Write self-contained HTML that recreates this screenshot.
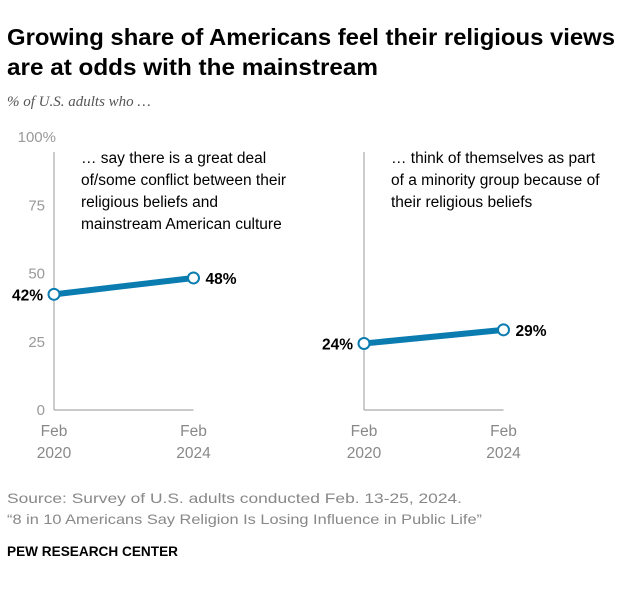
<!DOCTYPE html>
<html><head><meta charset="utf-8"><style>
body{margin:0;background:#fff;}
svg{display:block;font-family:"Liberation Sans",sans-serif;}
</style></head><body>
<svg width="639" height="589">
<text x="7" y="45" font-size="23" font-weight="bold" fill="#000" textLength="608" lengthAdjust="spacingAndGlyphs">Growing share of Americans feel their religious views</text>
<text x="7" y="75" font-size="23" font-weight="bold" fill="#000" textLength="371" lengthAdjust="spacingAndGlyphs">are at odds with the mainstream</text>
<text x="7" y="106" font-size="15" font-style="italic" fill="#555" font-family="Liberation Serif, serif">% of U.S. adults who …</text>
<g id="ticks" fill="#999" font-size="15" text-anchor="end"></g>
<g id="panels"></g>
<text x="7" y="503" font-size="14" fill="#888" textLength="455" lengthAdjust="spacingAndGlyphs">Source: Survey of U.S. adults conducted Feb. 13-25, 2024.</text>
<text x="7" y="524" font-size="14" fill="#888" textLength="475" lengthAdjust="spacingAndGlyphs">“8 in 10 Americans Say Religion Is Losing Influence in Public Life”</text>
<text x="7" y="556" font-size="13.5" font-weight="bold" fill="#000" textLength="171" lengthAdjust="spacingAndGlyphs">PEW RESEARCH CENTER</text>
</svg>
<script>
const tickValues=[0,25,50,75,100];
const tickLabels=["0","25","50","75","100%"];
const categories=["Feb 2020","Feb 2024"];
const conflictValues=[42,48];
const minorityValues=[24,29];
const NS="http://www.w3.org/2000/svg";
function y(v){return 409-v*2.73;}
function mk(tag,attrs,parent,text){const e=document.createElementNS(NS,tag);for(const k in attrs)e.setAttribute(k,attrs[k]);if(text!==undefined)e.textContent=text;parent.appendChild(e);return e;}
const tg=document.getElementById('ticks');
tickValues.forEach((v,i)=>{const t=mk('text',{x:v===100?56:45,y:y(v)+6},tg,tickLabels[i]);

});
const pg=document.getElementById('panels');
const panels=[{x0:54,vals:conflictValues,lines:["… say there is a great deal","of/some conflict between their","religious beliefs and","mainstream American culture"],name:'conflict'},
{x0:364,vals:minorityValues,lines:["… think of themselves as part","of a minority group because of","their religious beliefs"],name:'minority'}];
panels.forEach(p=>{
 const g=mk('g',{},pg);
 
 
 function x(i){return p.x0+i*139.5;}
 const ax=mk('line',{x1:p.x0,y1:152,x2:p.x0,y2:410,stroke:'#aaa','stroke-width':1.2},g);
 
 
 const bl=mk('line',{x1:p.x0,y1:410,x2:x(1),y2:410,stroke:'#aaa','stroke-width':1.2},g);
 
 
 p.lines.forEach((l,i)=>{const t=mk('text',{x:p.x0+27,y:163+i*22,'font-size':15.5,fill:'#000'},g,l);
 
 });
 categories.forEach((c,i)=>{const parts=c.split(' ');
 const t1=mk('text',{x:x(i),y:436,'font-size':15.5,fill:'#888','text-anchor':'middle'},g,parts[0]);
 
 
 const t2=mk('text',{x:x(i),y:458,'font-size':15.5,fill:'#888','text-anchor':'middle'},g,parts[1]);
 
 });
 const ln=mk('line',{x1:x(0),y1:y(p.vals[0]),x2:x(1),y2:y(p.vals[1]),stroke:'#0b7cb0','stroke-width':6},g);
 
 
 p.vals.forEach((v,i)=>{
  const c=mk('circle',{cx:x(i),cy:y(v),r:5.5,fill:'#fff',stroke:'#0b7cb0','stroke-width':2},g);
  
  
  const t=mk('text',{x:i===0?x(i)-11:x(i)+12,y:y(v)+6,'font-size':15.5,'font-weight':'bold',fill:'#000','text-anchor':i===0?'end':'start'},g,v+'%');
  
  
 });
});
</script>
</body></html>
